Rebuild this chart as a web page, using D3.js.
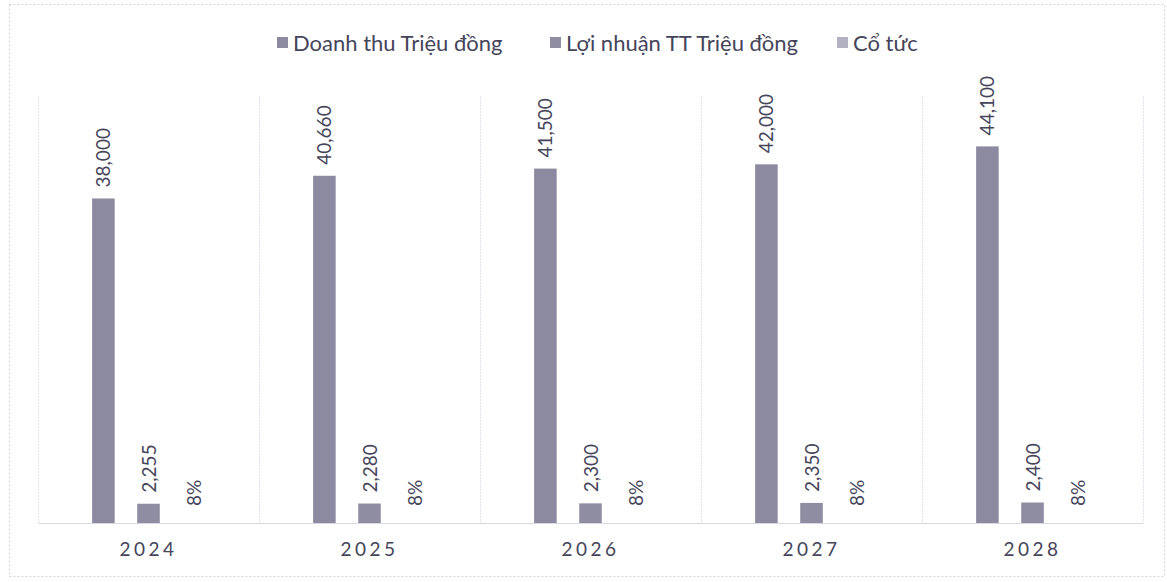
<!DOCTYPE html>
<html>
<head>
<meta charset="utf-8">
<script src="https://cdn.jsdelivr.net/npm/d3@7"></script>
<style>
  body { margin: 0; background: #fff; }
  text { font-family: Lato, "Open Sans", sans-serif; fill: #45455a; }
</style>
</head>
<body>
<div id="chart"></div>
<script>
var years = ["2024", "2025", "2026", "2027", "2028"];
var seriesNames = ["Doanh thu Triệu đồng", "Lợi nhuận TT Triệu đồng", "Cổ tức"];
var doanhThu = [38000, 40660, 41500, 42000, 44100];
var loiNhuan = [2255, 2280, 2300, 2350, 2400];
var coTuc = [0.08, 0.08, 0.08, 0.08, 0.08];

var w = 1167, h = 582;
var svg = d3.select("#chart").append("svg")
  .attr("width", w)
  .attr("height", h);

// outer frame, dotted like the scan
svg.append("rect")
  .attr("x", 9.5).attr("y", 4.5)
  .attr("width", 1155).attr("height", 572)
  .attr("fill", "none")
  .attr("stroke", "#d4d4dc")
  .attr("stroke-dasharray", "2,2");

// plot area (note: "top" is reserved on window, so use other names)
var plotLeft = 38, plotRight = 1143, plotTop = 96, plotBottom = 523;

var xScale = d3.scaleBand()
  .domain(years)
  .range([plotLeft, plotRight]);

var xInner = d3.scaleBand()
  .domain(d3.range(3))
  .range([0, xScale.bandwidth()])
  .paddingInner(0.5)
  .paddingOuter(1.2);

var yScale = d3.scaleLinear()
  .domain([0, 50000])
  .range([plotBottom, plotTop]);

var colors = ["#8c8aa0", "#8f8da2", "#b2b1c2"];

// vertical separators between categories
var seps = d3.range(years.length + 1).map(function(i) { return plotLeft + i * xScale.step(); });
svg.append("g").selectAll("line")
  .data(seps)
  .enter()
  .append("line")
  .attr("x1", function(d) { return d + 0.5; })
  .attr("x2", function(d) { return d + 0.5; })
  .attr("y1", plotTop)
  .attr("y2", plotBottom)
  .attr("stroke", "#e2e2ea")
  .attr("stroke-dasharray", "2,1");

var rows = years.map(function(y, i) {
  return { year: y, values: [doanhThu[i], loiNhuan[i], coTuc[i]] };
});
var fmt = [d3.format(","), d3.format(","), d3.format(".0%")];

var groups = svg.append("g").selectAll("g")
  .data(rows)
  .enter()
  .append("g")
  .attr("transform", function(d) { return "translate(" + xScale(d.year) + ",0)"; });

var cells = groups.selectAll("g")
  .data(function(d) { return d.values.map(function(v, k) { return { k: k, v: v }; }); })
  .enter()
  .append("g");

cells.append("rect")
  .attr("x", function(d) { return xInner(d.k); })
  .attr("y", function(d) { return yScale(d.v); })
  .attr("width", xInner.bandwidth())
  .attr("height", function(d) { return plotBottom - yScale(d.v); })
  .attr("fill", function(d) { return colors[d.k]; });

cells.append("text")
  .attr("transform", function(d) {
    var cx = xInner(d.k) + xInner.bandwidth() / 2;
    var cy = Math.min(yScale(d.v), plotBottom - 6) - 11;
    return "translate(" + (cx + 7) + "," + cy + ") rotate(-90)";
  })
  .attr("font-size", 19)
  .text(function(d) { return fmt[d.k](d.v); });

// axis
var xAxis = d3.axisBottom(xScale).tickSize(0).tickPadding(20);
var xg = svg.append("g")
  .attr("transform", "translate(0," + plotBottom + ")")
  .call(xAxis);
xg.select(".domain").attr("stroke", "#d8d8e0");
xg.selectAll("text")
  .attr("font-size", 19)
  .attr("letter-spacing", "3.5px")
  .attr("font-family", "Lato, 'Open Sans', sans-serif")
  .attr("fill", "#45455a");

// legend
var legendX = [277, 550, 837];
var legend = svg.append("g").selectAll("g")
  .data(seriesNames)
  .enter()
  .append("g")
  .attr("transform", function(d, i) { return "translate(" + legendX[i] + ",43)"; });
legend.append("rect")
  .attr("x", 0).attr("y", -6)
  .attr("width", 11).attr("height", 11)
  .attr("fill", function(d, i) { return colors[i]; });
legend.append("text")
  .attr("x", 16)
  .attr("dy", "0.35em")
  .attr("font-size", 22)
  .text(function(d) { return d; });
</script>
</body>
</html>
